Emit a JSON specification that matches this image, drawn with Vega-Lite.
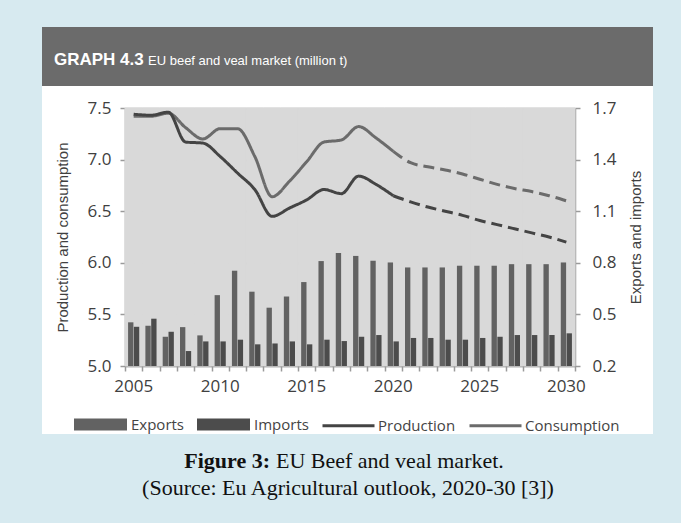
{
  "$schema": "https://vega.github.io/schema/vega-lite/v6.json",
  "background": "#d7eaf0",
  "padding": {"left": 42, "top": 27, "right": 28, "bottom": 0},
  "spacing": 0,
  "bounds": "flush",
  "config": {"view": {"stroke": null}, "font": "Open Sans"},
  "datasets": {
    "bars": [
      {"year": 2005, "series": "Exports", "value": 0.454}, {"year": 2005, "series": "Imports", "value": 0.428},
      {"year": 2006, "series": "Exports", "value": 0.434}, {"year": 2006, "series": "Imports", "value": 0.475},
      {"year": 2007, "series": "Exports", "value": 0.370}, {"year": 2007, "series": "Imports", "value": 0.399},
      {"year": 2008, "series": "Exports", "value": 0.426}, {"year": 2008, "series": "Imports", "value": 0.287},
      {"year": 2009, "series": "Exports", "value": 0.378}, {"year": 2009, "series": "Imports", "value": 0.343},
      {"year": 2010, "series": "Exports", "value": 0.612}, {"year": 2010, "series": "Imports", "value": 0.343},
      {"year": 2011, "series": "Exports", "value": 0.754}, {"year": 2011, "series": "Imports", "value": 0.353},
      {"year": 2012, "series": "Exports", "value": 0.632}, {"year": 2012, "series": "Imports", "value": 0.326},
      {"year": 2013, "series": "Exports", "value": 0.539}, {"year": 2013, "series": "Imports", "value": 0.331},
      {"year": 2014, "series": "Exports", "value": 0.604}, {"year": 2014, "series": "Imports", "value": 0.343},
      {"year": 2015, "series": "Exports", "value": 0.688}, {"year": 2015, "series": "Imports", "value": 0.326},
      {"year": 2016, "series": "Exports", "value": 0.810}, {"year": 2016, "series": "Imports", "value": 0.353},
      {"year": 2017, "series": "Exports", "value": 0.857}, {"year": 2017, "series": "Imports", "value": 0.345},
      {"year": 2018, "series": "Exports", "value": 0.840}, {"year": 2018, "series": "Imports", "value": 0.370},
      {"year": 2019, "series": "Exports", "value": 0.812}, {"year": 2019, "series": "Imports", "value": 0.380},
      {"year": 2020, "series": "Exports", "value": 0.802}, {"year": 2020, "series": "Imports", "value": 0.343},
      {"year": 2021, "series": "Exports", "value": 0.773}, {"year": 2021, "series": "Imports", "value": 0.363},
      {"year": 2022, "series": "Exports", "value": 0.773}, {"year": 2022, "series": "Imports", "value": 0.363},
      {"year": 2023, "series": "Exports", "value": 0.773}, {"year": 2023, "series": "Imports", "value": 0.353},
      {"year": 2024, "series": "Exports", "value": 0.783}, {"year": 2024, "series": "Imports", "value": 0.353},
      {"year": 2025, "series": "Exports", "value": 0.783}, {"year": 2025, "series": "Imports", "value": 0.363},
      {"year": 2026, "series": "Exports", "value": 0.783}, {"year": 2026, "series": "Imports", "value": 0.370},
      {"year": 2027, "series": "Exports", "value": 0.792}, {"year": 2027, "series": "Imports", "value": 0.380},
      {"year": 2028, "series": "Exports", "value": 0.792}, {"year": 2028, "series": "Imports", "value": 0.380},
      {"year": 2029, "series": "Exports", "value": 0.792}, {"year": 2029, "series": "Imports", "value": 0.380},
      {"year": 2030, "series": "Exports", "value": 0.802}, {"year": 2030, "series": "Imports", "value": 0.390}
    ],
    "lines": [
      {"year": 2005, "series": "Consumption", "phase": "hist", "value": 7.42},
      {"year": 2006, "series": "Consumption", "phase": "hist", "value": 7.42},
      {"year": 2007, "series": "Consumption", "phase": "hist", "value": 7.45},
      {"year": 2008, "series": "Consumption", "phase": "hist", "value": 7.31},
      {"year": 2009, "series": "Consumption", "phase": "hist", "value": 7.20},
      {"year": 2010, "series": "Consumption", "phase": "hist", "value": 7.30},
      {"year": 2011, "series": "Consumption", "phase": "hist", "value": 7.30},
      {"year": 2012, "series": "Consumption", "phase": "hist", "value": 7.03},
      {"year": 2013, "series": "Consumption", "phase": "hist", "value": 6.64},
      {"year": 2014, "series": "Consumption", "phase": "hist", "value": 6.79},
      {"year": 2015, "series": "Consumption", "phase": "hist", "value": 6.98},
      {"year": 2016, "series": "Consumption", "phase": "hist", "value": 7.17},
      {"year": 2017, "series": "Consumption", "phase": "hist", "value": 7.19},
      {"year": 2018, "series": "Consumption", "phase": "hist", "value": 7.32},
      {"year": 2019, "series": "Consumption", "phase": "hist", "value": 7.21},
      {"year": 2020, "series": "Consumption", "phase": "hist", "value": 7.08},
      {"year": 2020, "series": "Consumption", "phase": "proj", "value": 7.08},
      {"year": 2021, "series": "Consumption", "phase": "proj", "value": 6.97},
      {"year": 2022, "series": "Consumption", "phase": "proj", "value": 6.93},
      {"year": 2023, "series": "Consumption", "phase": "proj", "value": 6.90},
      {"year": 2024, "series": "Consumption", "phase": "proj", "value": 6.86},
      {"year": 2025, "series": "Consumption", "phase": "proj", "value": 6.81},
      {"year": 2026, "series": "Consumption", "phase": "proj", "value": 6.76},
      {"year": 2027, "series": "Consumption", "phase": "proj", "value": 6.72},
      {"year": 2028, "series": "Consumption", "phase": "proj", "value": 6.69},
      {"year": 2029, "series": "Consumption", "phase": "proj", "value": 6.65},
      {"year": 2030, "series": "Consumption", "phase": "proj", "value": 6.60},
      {"year": 2005, "series": "Production", "phase": "hist", "value": 7.44},
      {"year": 2006, "series": "Production", "phase": "hist", "value": 7.43},
      {"year": 2007, "series": "Production", "phase": "hist", "value": 7.46},
      {"year": 2008, "series": "Production", "phase": "hist", "value": 7.17},
      {"year": 2009, "series": "Production", "phase": "hist", "value": 7.16},
      {"year": 2010, "series": "Production", "phase": "hist", "value": 7.03},
      {"year": 2011, "series": "Production", "phase": "hist", "value": 6.87},
      {"year": 2012, "series": "Production", "phase": "hist", "value": 6.71},
      {"year": 2013, "series": "Production", "phase": "hist", "value": 6.45},
      {"year": 2014, "series": "Production", "phase": "hist", "value": 6.53},
      {"year": 2015, "series": "Production", "phase": "hist", "value": 6.61},
      {"year": 2016, "series": "Production", "phase": "hist", "value": 6.71},
      {"year": 2017, "series": "Production", "phase": "hist", "value": 6.67},
      {"year": 2018, "series": "Production", "phase": "hist", "value": 6.84},
      {"year": 2019, "series": "Production", "phase": "hist", "value": 6.76},
      {"year": 2020, "series": "Production", "phase": "hist", "value": 6.65},
      {"year": 2020, "series": "Production", "phase": "proj", "value": 6.65},
      {"year": 2021, "series": "Production", "phase": "proj", "value": 6.59},
      {"year": 2022, "series": "Production", "phase": "proj", "value": 6.54},
      {"year": 2023, "series": "Production", "phase": "proj", "value": 6.50},
      {"year": 2024, "series": "Production", "phase": "proj", "value": 6.46},
      {"year": 2025, "series": "Production", "phase": "proj", "value": 6.41},
      {"year": 2026, "series": "Production", "phase": "proj", "value": 6.37},
      {"year": 2027, "series": "Production", "phase": "proj", "value": 6.33},
      {"year": 2028, "series": "Production", "phase": "proj", "value": 6.29},
      {"year": 2029, "series": "Production", "phase": "proj", "value": 6.25},
      {"year": 2030, "series": "Production", "phase": "proj", "value": 6.20}
    ]
  },
  "vconcat": [
    {
      "width": 611,
      "height": 59,
      "view": {"fill": "#6b6b6b", "stroke": null},
      "data": {"values": [{}]},
      "layer": [
        {"mark": {"type": "text", "text": "GRAPH 4.3", "x": 12, "y": 38, "align": "left", "baseline": "alphabetic", "font": "Liberation Sans", "fontSize": 17, "fontWeight": "bold", "fill": "#ffffff"}},
        {"mark": {"type": "text", "text": "EU beef and veal market (million t)", "x": 106, "y": 38, "align": "left", "baseline": "alphabetic", "font": "Liberation Sans", "fontSize": 13, "fill": "#ffffff"}}
      ]
    },
    {
      "width": 611,
      "height": 348,
      "view": {"fill": "#ffffff", "stroke": null},
      "resolve": {"scale": {"y": "independent"}, "axis": {"x": "independent"}},
      "layer": [
        {
          "data": {"name": "bars"},
          "transform": [{"filter": "datum.series === 'Exports'"}],
          "mark": {"type": "rect", "fill": "#d9d9d9", "stroke": "#d9d9d9", "strokeWidth": 1},
          "encoding": {
            "x": {"field": "year", "type": "ordinal", "scale": {"type": "band", "range": [83, 533], "paddingInner": 0, "paddingOuter": 0}, "axis": {"orient": "bottom", "offset": -68, "title": null, "labels": false, "domain": false, "ticks": true, "tickBand": "extent", "tickColor": "#9a9a9a", "tickWidth": 1.5, "tickSize": 5, "grid": false}},
            "y": {"datum": 7.5, "type": "quantitative", "scale": {"domain": [5, 7.5], "range": [280, 22], "nice": false, "zero": false}, "axis": {"orient": "left", "offset": -83, "values": [5, 5.5, 6, 6.5, 7, 7.5], "grid": true, "gridColor": "#b2b2b2", "gridWidth": 1.5, "domain": false, "ticks": false, "labels": false, "title": null}},
            "y2": {"datum": 5.0}
          }
        },
        {
          "data": {"name": "bars"},
          "mark": {"type": "bar"},
          "encoding": {
            "x": {"field": "year", "type": "ordinal", "title": null, "axis": {"orient": "bottom", "offset": -68, "title": null, "labelAngle": 0, "labelExpr": "datum.value % 5 === 0 ? datum.label : ''", "labelOverlap": false, "ticks": false, "tickSize": 0, "domainColor": "#9a9a9a", "domainWidth": 1.5, "labelFont": "Open Sans", "labelFontSize": 17, "labelColor": "#404040", "labelPadding": 12, "grid": false}},
            "xOffset": {"field": "series", "scale": {"domain": ["Exports", "Imports"], "paddingInner": 0.08, "paddingOuter": 0.53}},
            "y": {"field": "value", "type": "quantitative", "scale": {"domain": [0.2, 1.7], "range": [280, 22], "nice": false, "zero": false}, "axis": {"orient": "right", "offset": -78, "values": [0.2, 0.5, 0.8, 1.1, 1.4, 1.7], "format": ".1f", "grid": false, "domainColor": "#9a9a9a", "domainWidth": 1.5, "tickColor": "#9a9a9a", "tickWidth": 1.5, "tickSize": 5, "labelFont": "Open Sans", "labelFontSize": 17, "labelColor": "#404040", "labelPadding": 12, "title": "Exports and imports", "titleAngle": -90, "titleBaseline": "bottom", "titleFont": "Liberation Sans", "titleFontSize": 15, "titleFontWeight": "normal", "titleColor": "#404040", "titlePadding": 28}},
            "y2": {"datum": 0.2},
            "color": {
              "field": "series", "type": "nominal",
              "scale": {"domain": ["Exports", "Imports", "Production", "Consumption"], "range": ["#626262", "#4c4c4c", "#444444", "#6b6b6b"]},
              "legend": {
                "orient": "none", "legendX": 32, "legendY": 386, "direction": "horizontal", "title": null,
                "labelFont": "Open Sans", "labelFontSize": 15, "labelColor": "#444444",
                "symbolSize": 400, "labelOffset": 34, "columnPadding": 7,
                "encode": {
                  "symbols": {
                    "update": {
                      "shape": {"signal": "datum.value === 'Exports' || datum.value === 'Imports' ? 'M-1,-0.45H4V0.45H-1Z' : 'M-1,0H4.2'"},
                      "fill": {"signal": "datum.value === 'Exports' || datum.value === 'Imports' ? scale('color', datum.value) : 'transparent'"},
                      "stroke": {"signal": "datum.value === 'Exports' || datum.value === 'Imports' ? 'transparent' : scale('color', datum.value)"},
                      "strokeWidth": {"value": 3},
                      "opacity": {"value": 1}
                    }
                  }
                }
              }
            }
          }
        },
        {
          "data": {"name": "lines"},
          "mark": {"type": "line", "interpolate": "monotone", "strokeWidth": 3},
          "encoding": {
            "x": {"field": "year", "type": "ordinal", "axis": null},
            "y": {"field": "value", "type": "quantitative", "scale": {"domain": [5, 7.5], "range": [280, 22], "nice": false, "zero": false}, "axis": {"orient": "left", "offset": -83, "values": [5, 5.5, 6, 6.5, 7, 7.5], "format": ".1f", "grid": false, "domainColor": "#9a9a9a", "domainWidth": 1.5, "tickColor": "#9a9a9a", "tickWidth": 1.5, "tickSize": 5, "labelFont": "Open Sans", "labelFontSize": 17, "labelColor": "#404040", "labelPadding": 9, "title": "Production and consumption", "titleFont": "Liberation Sans", "titleFontSize": 15, "titleFontWeight": "normal", "titleColor": "#404040", "titlePadding": 17}},
            "color": {"field": "series", "type": "nominal"},
            "strokeDash": {"field": "phase", "type": "nominal", "scale": {"domain": ["hist", "proj"], "range": [[1, 0], [11, 6]]}, "legend": null}
          }
        }
      ]
    },
    {
      "width": 611,
      "height": 89,
      "view": {"stroke": null},
      "data": {"values": [{}]},
      "layer": [
        {"mark": {"type": "text", "text": "Figure 3:", "x": 228, "y": 34, "align": "right", "baseline": "alphabetic", "font": "Liberation Serif", "fontSize": 22, "fontWeight": "bold", "fill": "#111111"}},
        {"mark": {"type": "text", "text": "EU Beef and veal market.", "x": 234, "y": 34, "align": "left", "baseline": "alphabetic", "font": "Liberation Serif", "fontSize": 22, "fill": "#111111"}},
        {"mark": {"type": "text", "text": "(Source: Eu Agricultural outlook, 2020-30 [3])", "x": 306, "y": 61, "align": "center", "baseline": "alphabetic", "font": "Liberation Serif", "fontSize": 22, "fill": "#111111"}}
      ]
    }
  ]
}
